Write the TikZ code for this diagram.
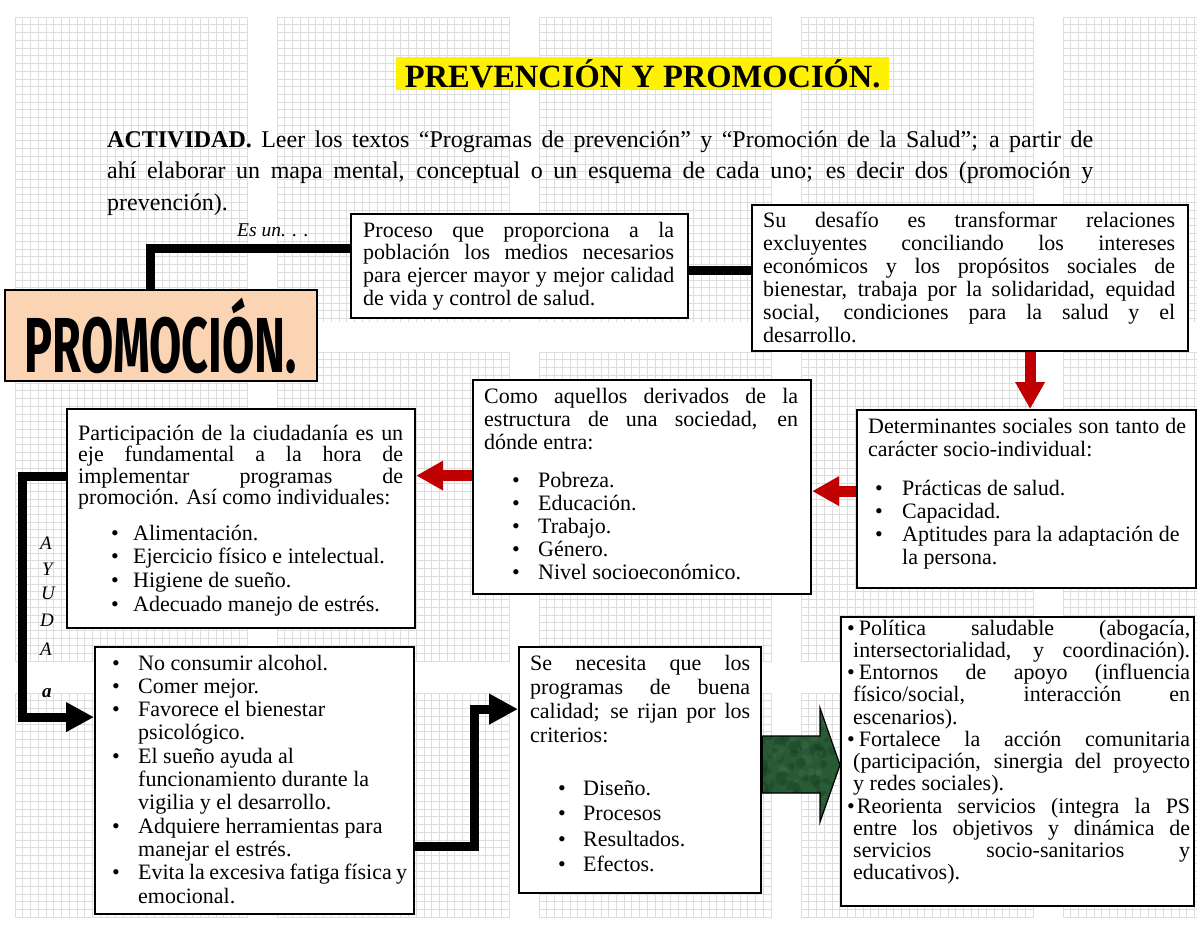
\documentclass[tikz,border=0pt]{standalone}
\usepackage{fontspec}
\setmainfont{Liberation Serif}
\newfontfamily\markerfont{Fira Sans}
\usetikzlibrary{arrows.meta,calc}
\definecolor{peach}{HTML}{FBD4B4}
\definecolor{redarr}{HTML}{C00000}
\definecolor{marble}{HTML}{285A34}
\definecolor{marblelight}{HTML}{3F7A4D}
\definecolor{marbledark}{HTML}{163A20}
\definecolor{gridc}{HTML}{DDDDDD}
\newcommand\J[1]{\makebox[\linewidth][s]{#1}}
\newcommand\BI[3]{\hspace*{#1}\makebox[#2][l]{\textbullet}#3}
\newcommand\CI[2]{\hspace*{#1}#2}
\newcommand\bodysize[1]{\fontsize{22pt}{#1}\selectfont}
\tikzset{
  box/.style={draw=black, line width=2.2pt, fill=white, anchor=north west, inner sep=0pt},
  txt/.style={anchor=base west, inner sep=0pt},
  gridline/.style={draw=gridc, line width=0.6pt},
  conn/.style={draw=black, line width=9pt},
  blackarr/.style={conn, -{Triangle[width=29pt,length=29pt]}},
  redarrow/.style={draw=redarr, line width=11pt, -{Triangle[width=28pt,length=27pt]}},
  letter/.style={anchor=base west, inner sep=0pt, font=\itshape\fontsize{19pt}{19pt}\selectfont},
}
\begin{document}
\begin{tikzpicture}[x=1pt,y=-1pt]
\useasboundingbox (0,0) rectangle (1200,927);
\fill[white] (0,0) rectangle (1200,927);
% background grid tiles
\foreach \cx/\cw in {15/232,277/232,539/232,801/232,1063/134}{
  \foreach \ry/\rh in {17/305,352/310,693/225}{
    \pgfmathtruncatemacro\nv{\cw/7.73}
    \pgfmathtruncatemacro\nh{\rh/7.73}
    \foreach \i in {0,...,\nv} \draw[gridline] ({\cx+\i*7.73},\ry) -- ++(0,\rh);
    \foreach \j in {0,...,\nh} \draw[gridline] (\cx,{\ry+\j*7.73}) -- ++(\cw,0);
  }
}
% title and activity text
\node[fill=yellow, minimum width=493pt, minimum height=33pt, inner sep=0pt, anchor=north west] (title) at (396,57)
  {\fontsize{32.5pt}{32.5pt}\selectfont\bfseries PREVENCIÓN Y PROMOCIÓN.};
\node[txt] (act) at (107,147) {\parbox[t]{986pt}{\fontsize{24pt}{31.5pt}\selectfont
\J{\textbf{ACTIVIDAD.} Leer los textos “Programas de prevención” y “Promoción de la Salud”; a partir de}\\
\J{ahí elaborar un mapa mental, conceptual o un esquema de cada uno; es decir dos (promoción y}\\
prevención).}};
\node[txt, font=\itshape\fontsize{19.5pt}{19.5pt}\selectfont] (esun) at (237,236) {Es un. . .};

% boxes
\node[draw=black, line width=1.8pt, fill=peach, minimum width=312pt, minimum height=91pt, inner sep=0pt, anchor=north west] (promo) at (4,289)
  {\scalebox{0.6}[1]{\markerfont\bfseries\fontsize{78pt}{78pt}\selectfont PROMOCIÓN.}};
\node[box, minimum width=337pt, minimum height=104pt] (proc) at (350,213) {};
\node[box, minimum width=436pt, minimum height=146pt] (desafio) at (751,204) {};
\node[box, minimum width=339pt, minimum height=178pt] (det) at (856,409) {};
\node[box, minimum width=338pt, minimum height=214pt] (como) at (472,379) {};
\node[box, minimum width=348pt, minimum height=219pt] (part) at (66,408) {};
\node[box, minimum width=319pt, minimum height=267pt] (nocons) at (94,646) {};
\node[box, minimum width=242pt, minimum height=246pt] (senec) at (518,646) {};
\node[box, minimum width=353pt, minimum height=289pt] (last) at (840,616) {};

% connectors
\draw[conn] ([xshift=-10pt]promo.north) |- ($(proc.north west)!0.33!(proc.south west)$);
\coordinate (c2) at ($(proc.north east)!0.54!(proc.south east)$);
\draw[conn, line width=8.5pt] (c2) -- (c2 -| desafio.west);
\coordinate (c3) at ([xshift=3.5pt]det.north);
\draw[redarrow] (desafio.south -| c3) -- (c3);
\coordinate (c4) at ([yshift=8pt]det.west);
\draw[redarrow] (c4) -- (c4 -| como.east);
\coordinate (c5) at ([yshift=11.5pt]como.west);
\draw[redarrow] (c5) -- (c5 -| part.east);
\coordinate (c6) at ([yshift=42.5pt]part.west);
\coordinate (c7) at ([yshift=63.5pt]nocons.west);
\draw[conn, -{Triangle[width=28pt,length=28pt]}] (c6) -- ++(-44,0) |- (c7);
\coordinate (c8) at ([yshift=-65.5pt]nocons.east);
\coordinate (c9) at ([yshift=61pt]senec.west);
\draw[blackarr] (c8) -- ++(59,0) |- (c9);
% green block arrow (marbled)
\begin{scope}
\path[clip] (senec.east |- 0,736) -- (820,736) -- (820,708) -- (last.west |- 0,765) -- (820,822) -- (820,793) -- (senec.east |- 0,793) -- cycle;
\fill[marble] (755,700) rectangle (845,830);
\pgfmathsetseed{7}
\foreach \k in {1,...,90}{
  \pgfmathsetmacro\px{758+84*rnd}
  \pgfmathsetmacro\py{704+122*rnd}
  \pgfmathsetmacro\pr{2+5*rnd}
  \fill[marbledark, opacity=0.35] (\px,\py) circle[radius=\pr pt];
}
\foreach \k in {1,...,60}{
  \pgfmathsetmacro\px{758+84*rnd}
  \pgfmathsetmacro\py{704+122*rnd}
  \pgfmathsetmacro\pr{1.5+3.5*rnd}
  \fill[marblelight, opacity=0.3] (\px,\py) circle[radius=\pr pt];
}
\end{scope}
\draw[draw=black, line width=1.2pt]
  (senec.east |- 0,736) -- (820,736) -- (820,708) -- (last.west |- 0,765) -- (820,822) -- (820,793) -- (senec.east |- 0,793) -- cycle;

% AYUDA letters
\node[letter] (ay1) at (40,549) {A};
\node[letter] (ay2) at (42,575) {Y};
\node[letter] (ay3) at (41,599) {U};
\node[letter] (ay4) at (40,626) {D};
\node[letter] (ay5) at (40,655) {A};
\node[letter, font=\bfseries\itshape\fontsize{19pt}{19pt}\selectfont] (ay6) at (42,697) {a};

% box texts
\node[txt] (proct) at (363,237) {\parbox[t]{311pt}{\bodysize{22.7pt}%
\J{Proceso que proporciona a la}\\
\J{población los medios necesarios}\\
\J{para ejercer mayor y mejor calidad}\\
de vida y control de salud.}};

\node[txt] (desafiot) at (763,227) {\parbox[t]{412pt}{\bodysize{23pt}%
\J{Su desafío es transformar relaciones}\\
\J{excluyentes conciliando los intereses}\\
\J{económicos y los propósitos sociales de}\\
\J{bienestar, trabaja por la solidaridad, equidad}\\
\J{social, condiciones para la salud y el}\\
desarrollo.}};

\node[txt] (dett) at (868,433) {\parbox[t]{318pt}{\bodysize{23.3pt}%
\J{Determinantes sociales son tanto de}\\
carácter socio-individual:\\[15.4pt]
\BI{7pt}{27pt}{Prácticas de salud.}\\
\BI{7pt}{27pt}{Capacidad.}\\
\BI{7pt}{27pt}{Aptitudes para la adaptación de}\\
\CI{34pt}{la persona.}}};

\node[txt] (comot) at (484,403) {\parbox[t]{314pt}{\bodysize{23pt}%
\J{Como aquellos derivados de la}\\
\J{estructura de una sociedad, en}\\
dónde entra:\\[15pt]
\BI{28pt}{26pt}{Pobreza.}\\
\BI{28pt}{26pt}{Educación.}\\
\BI{28pt}{26pt}{Trabajo.}\\
\BI{28pt}{26pt}{Género.}\\
\BI{28pt}{26pt}{Nivel socioeconómico.}}};

\node[txt] (partt) at (78,440) {\parbox[t]{325pt}{\bodysize{21.5pt}%
\J{Participación de la ciudadanía es un}\\
\J{eje fundamental a la hora de}\\
\J{implementar programas de}\\
promoción. Así como individuales:\\[14pt]
\BI{33pt}{22pt}{Alimentación.}\\[2.3pt]
\BI{33pt}{22pt}{Ejercicio físico e intelectual.}\\[2.3pt]
\BI{33pt}{22pt}{Higiene de sueño.}\\[2.3pt]
\BI{33pt}{22pt}{Adecuado manejo de estrés.}}};

\node[txt] (nocont) at (112,670) {\parbox[t]{295pt}{\bodysize{23.3pt}%
\BI{0pt}{26pt}{No consumir alcohol.}\\
\BI{0pt}{26pt}{Comer mejor.}\\
\BI{0pt}{26pt}{Favorece el bienestar}\\
\CI{26pt}{psicológico.}\\
\BI{0pt}{26pt}{El sueño ayuda al}\\
\CI{26pt}{funcionamiento durante la}\\
\CI{26pt}{vigilia y el desarrollo.}\\
\BI{0pt}{26pt}{Adquiere herramientas para}\\
\CI{26pt}{manejar el estrés.}\\
\BI{0pt}{26pt}{Evita la excesiva fatiga física y}\\
\CI{26pt}{emocional.}}};

\node[txt] (senect) at (530,670) {\parbox[t]{220pt}{\bodysize{24pt}%
\J{Se necesita que los}\\
\J{programas de buena}\\
\J{calidad; se rijan por los}\\
criterios:\\[29pt]
\BI{28pt}{25pt}{Diseño.}\\[1.5pt]
\BI{28pt}{25pt}{Procesos}\\[1.5pt]
\BI{28pt}{25pt}{Resultados.}\\[1.5pt]
\BI{28pt}{25pt}{Efectos.}}};

\node[txt] (lastt) at (853,635) {\parbox[t]{337pt}{\bodysize{22.25pt}%
\J{\hspace*{-6pt}\textbullet\hspace{4pt}Política saludable (abogacía,}\\
\J{intersectorialidad, y coordinación).}\\
\J{\hspace*{-6pt}\textbullet\hspace{4pt}Entornos de apoyo (influencia}\\
\J{físico/social, interacción en}\\
escenarios).\\
\J{\hspace*{-6pt}\textbullet\hspace{4pt}Fortalece la acción comunitaria}\\
\J{(participación, sinergia del proyecto}\\
y redes sociales).\\
\J{\hspace*{-6pt}\textbullet\hspace{2pt}Reorienta servicios (integra la PS}\\
\J{entre los objetivos y dinámica de}\\
\J{servicios socio-sanitarios y}\\
educativos).}};
\end{tikzpicture}
\end{document}
